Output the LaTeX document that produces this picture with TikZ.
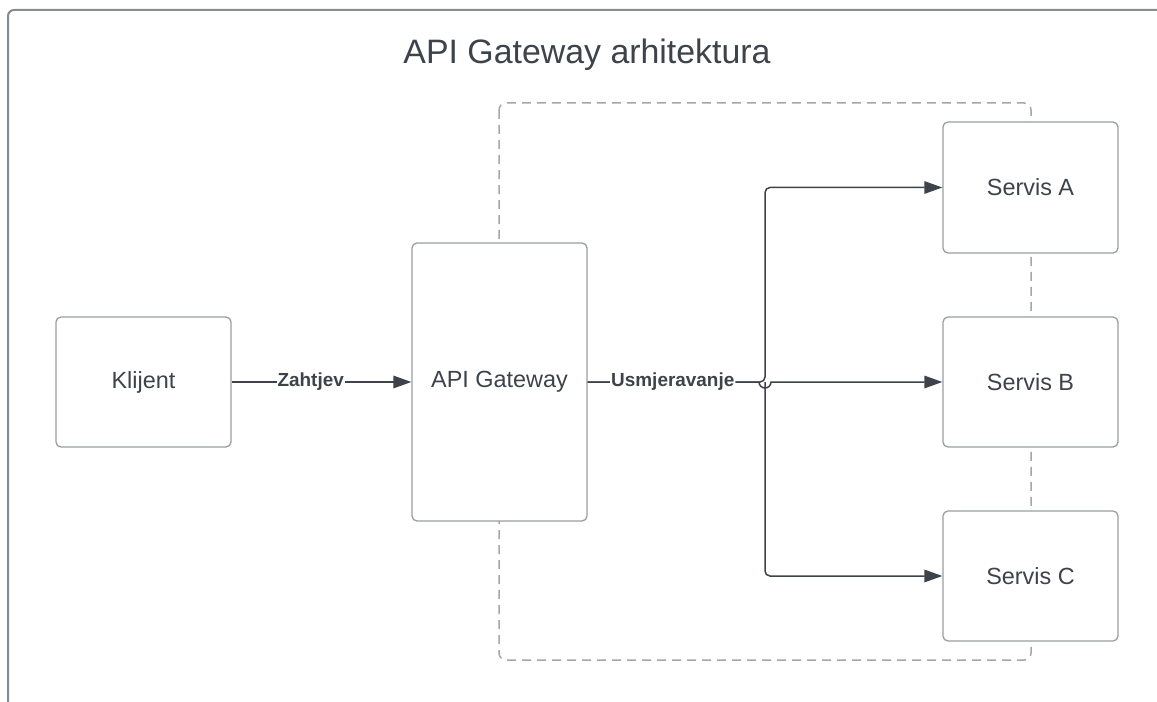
\documentclass[tikz,border=0pt]{standalone}
\usepackage{fontspec}
\setmainfont{Liberation Sans}
\usetikzlibrary{arrows.meta}
\definecolor{txt}{HTML}{3D434B}
\definecolor{boxline}{HTML}{9A9EA3}
\definecolor{dashline}{HTML}{A3A7AB}
\definecolor{frameline}{HTML}{868C92}
\tikzset{
  box/.style={draw=boxline, line width=1.3bp, fill=white, rounded corners=5bp,
    text=txt, font=\fontsize{23.5}{28}\selectfont, inner sep=0pt},
  conn/.style={draw=txt, line width=1.5bp, -{Triangle[length=18bp,width=12.5bp]}},
  lbl/.style={fill=white, text=txt, font=\bfseries\fontsize{19}{23}\selectfont, inner sep=1bp},
}
\begin{document}
\begin{tikzpicture}[x=1bp, y=-1bp]
\useasboundingbox (0,0) rectangle (1157,702);
% outer frame
\draw[frameline, line width=2bp, rounded corners=6bp] (8,702) -- (8,10) -- (1157,10);
% title
\node[text=txt, font=\fontsize{34}{40}\selectfont, anchor=base] (title) at (587,64) {API Gateway arhitektura};
% dashed group
\draw[dashline, line width=1.5bp, dash pattern=on 9bp off 6bp, rounded corners=7bp] (499,103) rectangle (1031,660);
% boxes
\node[box, minimum width=175bp, minimum height=130bp] (kl) at (143.5,382) {Klijent};
\node[box, minimum width=175bp, minimum height=278bp] (gw) at (499.5,382) {API Gateway};
\node[box, minimum width=175bp, minimum height=131bp] (sa) at (1030.5,187.5) {Servis A};
\node[box, minimum width=175bp, minimum height=130bp] (sb) at (1030.5,382) {Servis B};
\node[box, minimum width=175bp, minimum height=130bp] (sc) at (1030.5,576) {Servis C};
% junction coordinates
\coordinate (bus) at (765,382);
\coordinate (hopl) at (759,382);
% connectors
\draw[conn] (kl.east) -- node[lbl, pos=0.44] (lz) {Zahtjev} (gw.west);
\draw[conn] (gw.east) -- (hopl) arc[start angle=180, end angle=360, radius=6bp] -- (sb.west);
\draw[conn, rounded corners=5bp] (bus) |- (sc.west);
\draw[conn, rounded corners=5bp] (gw.east) -- node[lbl, pos=0.48] (lu) {Usmjeravanje} (bus) |- (sa.west);
\end{tikzpicture}
\end{document}
